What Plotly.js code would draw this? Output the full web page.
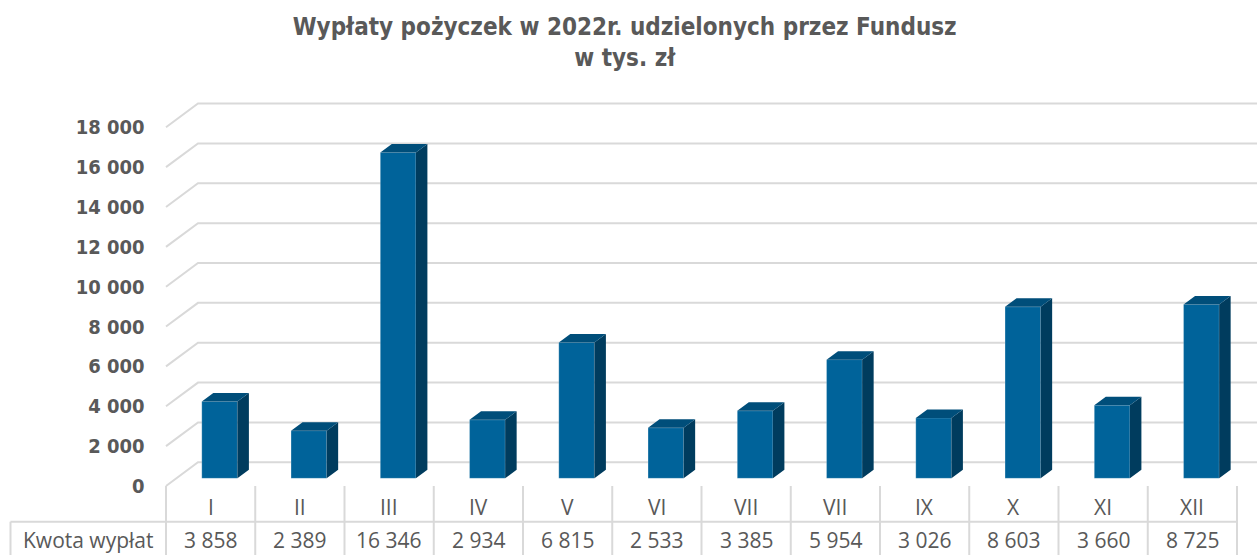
<!DOCTYPE html>
<html>
<head>
<meta charset="utf-8">
<script src="https://cdn.plot.ly/plotly-3.0.1.min.js"></script>
<style>html,body{margin:0;padding:0;background:#fff;}#chart{width:1257px;height:555px;}</style>
</head>
<body>
<div id="chart"></div>
<script>
// ---- data ----
const categories = ["I","II","III","IV","V","VI","VII","VII","IX","X","XI","XII"];
const values = [3858, 2389, 16346, 2934, 6815, 2533, 3385, 5954, 3026, 8603, 3660, 8725];
const rowLabel = "Kwota wypłat";
const yTicks = [0, 2000, 4000, 6000, 8000, 10000, 12000, 14000, 16000, 18000];
const titleText = "Wypłaty pożyczek w 2022r. udzielonych przez Fundusz<br>w tys. zł";

// ---- geometry (pixel-derived constants) ----
const W = 1257, H = 555;
const mL = 8, mR = 0, mT = 95, mB = 0;
const cellPx = 89.25;          // px per category
const x0px = 166;              // left of first category
const k = 0.01993;             // px per value unit
const floorPx = 486;           // pixel of front floor (value 0)
const px2x = p => (p - x0px) / cellPx;
const px2y = p => (floorPx - p) / k;
const dxU = px => px / cellPx;
const dyU = px => px / k;

const xRange = [px2x(mL), px2x(W - mR)];
const yRange = [px2y(H - mB), px2y(mT)];

const backDx = dxU(32), backDy = dyU(23.7);
const barBase = dyU(7.7);
const barLeft = dxU(35.8), barW = dxU(35.6);
const depDx = dxU(11.5), depDy = dyU(8.5);

const gridColor = "#d9d9d9";
const txtColor = "#595959";
const front = "#00639a", topC = "#004e7a", sideC = "#003c5e";

const shapes = [];
// back-wall gridlines with slanted floor part (drawn below the bars)
yTicks.forEach(v => {
  shapes.push({type:"path", xref:"x", yref:"y", layer:"below",
    path:`M 0 ${v} L ${backDx} ${v + backDy} L 13 ${v + backDy}`,
    line:{color:gridColor, width:2}});
});

const traces = [];
// front faces
traces.push({type:"bar", x:categories.map((c,i)=>i + barLeft + barW/2), y:values,
  base:values.map(()=>barBase), width:barW,
  marker:{color:front, line:{color:"rgba(255,255,255,0.35)", width:0.6}},
  hoverinfo:"skip", showlegend:false});

// side and top faces
const sx = [], sy = [], tx = [], ty = [];
values.forEach((v,i) => {
  const xl = i + barLeft, xr = xl + barW, b = barBase, t = barBase + v;
  sx.push(xr, xr + depDx, xr + depDx, xr, xr, null);
  sy.push(b, b + depDy, t + depDy, t, b, null);
  tx.push(xl, xl + depDx, xr + depDx, xr, xl, null);
  ty.push(t, t + depDy, t + depDy, t, t, null);
});
traces.push({type:"scatter", mode:"lines", x:sx, y:sy, fill:"toself", fillcolor:sideC,
  line:{width:0, color:sideC}, hoverinfo:"skip", showlegend:false});
traces.push({type:"scatter", mode:"lines", x:tx, y:ty, fill:"toself", fillcolor:topC,
  line:{width:0, color:topC}, hoverinfo:"skip", showlegend:false});

// table lines
const rowSplit = px2y(521.7);
const tBottom = yRange[0];
shapes.push({type:"line", xref:"x", yref:"y", x0:px2x(10.5), x1:12, y0:rowSplit, y1:rowSplit,
  line:{color:gridColor, width:2}});
shapes.push({type:"line", xref:"x", yref:"y", x0:px2x(10.5), x1:px2x(10.5), y0:rowSplit, y1:tBottom,
  line:{color:gridColor, width:2}});
for (let i = 0; i <= categories.length; i++) {
  shapes.push({type:"line", xref:"x", yref:"y", x0:i, x1:i, y0:0, y1:tBottom,
    line:{color:gridColor, width:2}});
}

// table texts
const fmt = v => String(v).replace(/\B(?=(\d{3})+(?!\d))/g, " ");
const annotations = [];
values.forEach((v,i) => {
  annotations.push({xref:"x", yref:"y", x:i + 0.5, y:px2y(540), text:fmt(v), showarrow:false,
    font:{family:"Open Sans", size:21, color:txtColor}, xanchor:"center", yanchor:"middle"});
});
categories.forEach((c,i) => {
  annotations.push({xref:"x", yref:"y", x:i + 0.5, y:px2y(507), text:c, showarrow:false,
    font:{family:"Open Sans", size:21, color:txtColor}, xanchor:"center", yanchor:"middle"});
});
annotations.push({xref:"x", yref:"y", x:px2x(88), y:px2y(540), text:rowLabel, showarrow:false,
  font:{family:"Open Sans", size:21, color:txtColor}, xanchor:"center", yanchor:"middle"});

const layout = {
  width:W, height:H,
  margin:{l:mL, r:mR, t:mT, b:mB, pad:0},
  paper_bgcolor:"#fff", plot_bgcolor:"rgba(0,0,0,0)",
  title:{text:titleText, x:0.497, xref:"container", xanchor:"center",
    y:1 - 35/H, yref:"container", yanchor:"top",
    font:{family:"DejaVu Sans Condensed", size:24, color:txtColor, weight:"bold"}},
  xaxis:{range:xRange, showgrid:false, zeroline:false, showline:false, showticklabels:false,
    ticks:"", fixedrange:true},
  yaxis:{range:yRange, anchor:"free", position:(165.5 - mL)/(W - mL - mR),
    tickvals:yTicks, ticks:"outside", ticklen:17, tickcolor:"rgba(0,0,0,0)",
    tickformat:",d", showgrid:false, zeroline:false, showline:false,
    tickfont:{family:"DejaVu Sans Condensed", size:20, color:txtColor, weight:"bold"}, fixedrange:true},
  separators:", ",
  shapes:shapes, annotations:annotations,
  bargap:0, showlegend:false
};

Plotly.newPlot("chart", traces, layout, {displayModeBar:false, staticPlot:true});
</script>
</body>
</html>
